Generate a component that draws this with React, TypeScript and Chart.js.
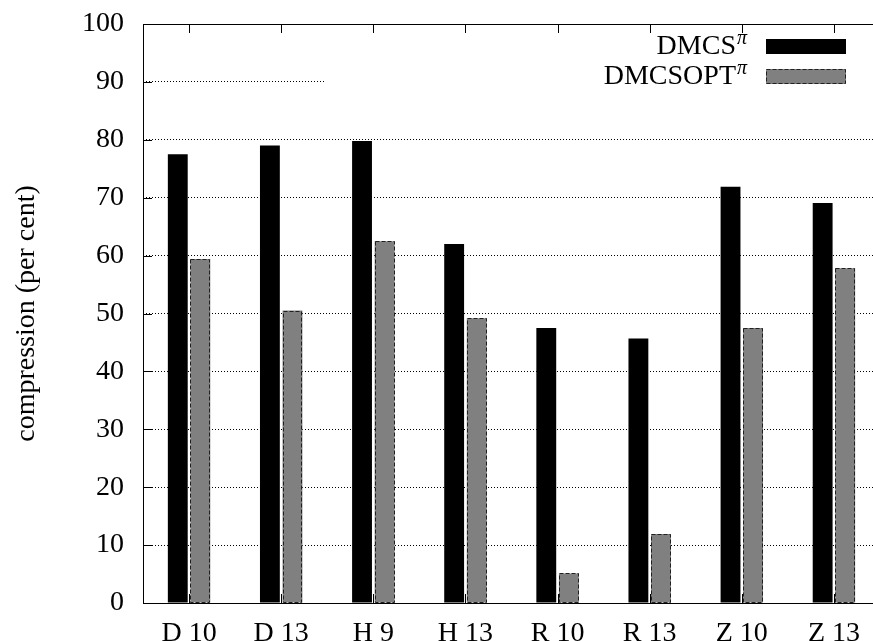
import React, { useEffect, useRef } from 'react';
import { Chart, registerables } from 'chart.js';

Chart.register(...registerables);

const categories = ['D 10', 'D 13', 'H 9', 'H 13', 'R 10', 'R 13', 'Z 10', 'Z 13'];
const dmcsValues = [77.5, 79.0, 79.8, 62.0, 47.5, 45.7, 71.9, 69.1];
const dmcsoptValues = [59.4, 50.5, 62.5, 49.2, 5.1, 11.9, 47.5, 57.8];
const seriesNames = ['DMCS', 'DMCSOPT'];
const seriesSup = 'π';
const yTitle = 'compression (per cent)';
const yMin = 0;
const yMax = 100;
const yStep = 10;

const FAMILY = '"Liberation Serif", "DejaVu Serif", serif';

const overlayPlugin = {
  id: 'overlay',
  afterDatasetsDraw(chart: any) {
    const { ctx, chartArea } = chart;
    const { left, right, top, bottom } = chartArea;
    const xs = chart.scales.x;
    const ys = chart.scales.y;
    ctx.save();

    // dashed outlines of grey bars
    const meta = chart.getDatasetMeta(1);
    ctx.strokeStyle = '#202020';
    ctx.lineWidth = 1;
    ctx.setLineDash([4, 2]);
    meta.data.forEach((el: any) => {
      const p = el.getProps(['x', 'y', 'base', 'width'], true);
      const x0 = Math.round(p.x - p.width / 2) + 0.5;
      const x1 = Math.round(p.x + p.width / 2) - 0.5;
      const y0 = Math.round(p.y) + 0.5;
      const y1 = Math.round(p.base) - 0.5;
      ctx.strokeRect(x0, y0, x1 - x0, y1 - y0);
    });

    // legend (opaque key)
    ctx.setLineDash([]);
    ctx.fillStyle = '#ffffff';
    ctx.fillRect(left + 183, top + 9, right - left - 183, 60);

    const textRight = 747;
    const rows = [
      { name: seriesNames[0], base: 54, fill: '#000000', dashed: false },
      { name: seriesNames[1], base: 84, fill: '#808080', dashed: true },
    ];
    rows.forEach((r) => {
      ctx.fillStyle = '#000';
      ctx.textBaseline = 'alphabetic';
      ctx.textAlign = 'right';
      ctx.font = `italic 20px ${FAMILY}`;
      const piW = ctx.measureText(seriesSup).width;
      ctx.fillText(seriesSup, textRight, r.base - 10);
      ctx.font = `28px ${FAMILY}`;
      ctx.fillText(r.name, textRight - piW - 1, r.base);
      const bx = 766;
      const by = r.base - 15;
      const bw = 80;
      const bh = 15;
      ctx.fillStyle = r.fill;
      ctx.fillRect(bx, by, bw, bh);
      if (r.dashed) {
        ctx.strokeStyle = '#202020';
        ctx.setLineDash([4, 2]);
        ctx.strokeRect(bx + 0.5, by + 0.5, bw - 1, bh - 1);
        ctx.setLineDash([]);
      }
    });

    // frame
    ctx.setLineDash([]);
    ctx.strokeStyle = '#000';
    ctx.lineWidth = 1;
    ctx.strokeRect(Math.round(left) + 0.5, Math.round(top) + 0.5, Math.round(right - left) - 1, Math.round(bottom - top));

    // y tick marks (inward)
    ctx.beginPath();
    ys.ticks.forEach((t: any) => {
      const py = Math.round(ys.getPixelForValue(t.value)) + 0.5;
      ctx.moveTo(left, py);
      ctx.lineTo(left + 9, py);
    });
    // x tick marks bottom and top (inward)
    categories.forEach((_c, i) => {
      const px = Math.round(xs.getPixelForValue(i)) + 0.5;
      ctx.moveTo(px, bottom);
      ctx.lineTo(px, bottom - 9);
      ctx.moveTo(px, top);
      ctx.lineTo(px, top + 9);
    });
    ctx.stroke();
    ctx.restore();
  },
};

export default function App() {
  const ref = useRef<HTMLCanvasElement | null>(null);

  useEffect(() => {
    if (!ref.current) return;
    const chart = new Chart(ref.current, {
      type: 'bar',
      data: {
        labels: categories,
        datasets: [
          {
            label: seriesNames[0],
            data: dmcsValues,
            backgroundColor: '#000000',
            borderWidth: 0,
            categoryPercentage: 0.49,
            barPercentage: 0.88,
          },
          {
            label: seriesNames[1],
            data: dmcsoptValues,
            backgroundColor: '#808080',
            borderWidth: 0,
            categoryPercentage: 0.49,
            barPercentage: 0.88,
          },
        ],
      },
      options: {
        responsive: false,
        animation: false,
        layout: { padding: { top: 24, right: 10, left: 0, bottom: 0 } },
        plugins: {
          legend: { display: false },
          tooltip: { enabled: false },
        },
        scales: {
          x: {
            offset: true,
            grid: { display: false, drawTicks: false },
            border: { display: false },
            ticks: {
              font: { family: FAMILY, size: 28 },
              color: '#000',
              padding: 14,
              maxRotation: 0,
              autoSkip: false,
            },
            afterFit: (s: any) => {
              s.height = 38;
              s.paddingLeft = 0;
              s.paddingRight = 0;
            },
          },
          y: {
            min: yMin,
            max: yMax,
            ticks: {
              stepSize: yStep,
              font: { family: FAMILY, size: 28 },
              color: '#000',
              padding: 19,
            },
            grid: {
              drawTicks: false,
              lineWidth: 1,
              color: (c: any) =>
                c.tick && (c.tick.value === yMin || c.tick.value === yMax) ? 'rgba(0,0,0,0)' : '#000',
            },
            border: { display: false, dash: [1, 2] },
            title: {
              display: true,
              text: yTitle,
              font: { family: FAMILY, size: 28 },
              color: '#000',
              padding: { top: 10, bottom: 0 },
            },
            afterFit: (s: any) => {
              s.width = 143;
              s.paddingTop = 0;
              s.paddingBottom = 0;
            },
          },
        },
      } as any,
      plugins: [overlayPlugin],
    });
    return () => chart.destroy();
  }, []);

  return (
    <div style={{ position: 'fixed', left: 0, top: 0, width: 873, height: 641, overflow: 'hidden', background: '#fff' }}>
      <canvas ref={ref} width={890} height={641} style={{ display: 'block', width: 890, height: 641 }} />
    </div>
  );
}
